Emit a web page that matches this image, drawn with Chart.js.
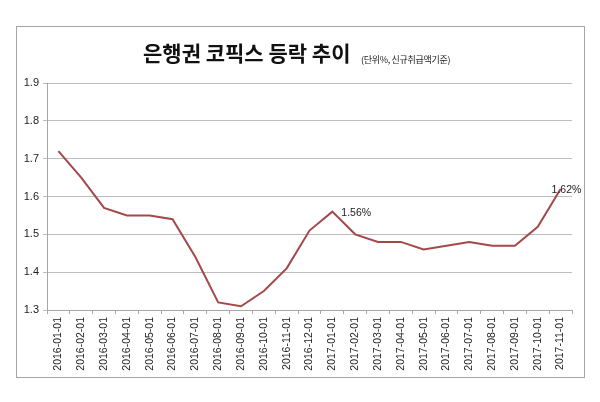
<!DOCTYPE html>
<html>
<head>
<meta charset="utf-8">
<script src="https://cdn.jsdelivr.net/npm/chart.js@4.4.1/dist/chart.umd.min.js"></script>
<style>
  html, body { margin: 0; padding: 0; background: #fff; }
  #wrap { position: relative; width: 600px; height: 402px; }
  #title {
    position: absolute; left: 143px; top: 42px; line-height: 1;
    font-family: "Noto Sans CJK KR", sans-serif; font-weight: bold;
    font-size: 21px; color: #111; white-space: nowrap; letter-spacing: 0px;
  }
  #sub {
    position: absolute; left: 361px; top: 55px; line-height: 1;
    font-family: "Noto Sans CJK KR", sans-serif;
    font-size: 9px; color: #222; white-space: nowrap; letter-spacing: -0.3px;
  }
</style>
</head>
<body>
<div id="wrap">
  <canvas id="chart" width="600" height="402"></canvas>
  <div id="title">은행권 코픽스 등락 추이</div>
  <div id="sub">(단위%, 신규취급액기준)</div>
</div>
<script>
document.addEventListener("DOMContentLoaded", function () {
  const ctx = document.getElementById('chart').getContext('2d');

  // 월별 기준일
  const labels = [
    '2016-01-01', '2016-02-01', '2016-03-01', '2016-04-01', '2016-05-01', '2016-06-01',
    '2016-07-01', '2016-08-01', '2016-09-01', '2016-10-01', '2016-11-01', '2016-12-01',
    '2017-01-01', '2017-02-01', '2017-03-01', '2017-04-01', '2017-05-01', '2017-06-01',
    '2017-07-01', '2017-08-01', '2017-09-01', '2017-10-01', '2017-11-01'
  ];
  // 코픽스 (%)
  const cofix = [
    1.72, 1.65, 1.57, 1.55, 1.55, 1.54, 1.44, 1.32, 1.31, 1.35, 1.41, 1.51,
    1.56, 1.50, 1.48, 1.48, 1.46, 1.47, 1.48, 1.47, 1.47, 1.52, 1.62
  ];
  const yTicks = [1.3, 1.4, 1.5, 1.6, 1.7, 1.8, 1.9];
  // 값 표시할 지점
  const labelled = ['2017-01-01', '2017-11-01'];

  const frame = {
    id: 'frame',
    beforeDraw(chart) {
      const c = chart.ctx;
      c.save();
      c.fillStyle = '#fff';
      c.fillRect(0, 0, chart.width, chart.height);
      c.strokeStyle = '#a6a6a6';
      c.lineWidth = 1;
      c.strokeRect(16.5, 26.5, 568, 351);
      c.restore();
    }
  };

  const valueLabels = {
    id: 'valueLabels',
    afterDatasetsDraw(chart) {
      const c = chart.ctx;
      const meta = chart.getDatasetMeta(0);
      c.save();
      c.font = '10.5px "Liberation Sans", sans-serif';
      c.fillStyle = '#222';
      c.textBaseline = 'middle';
      labelled.forEach(function (lab, n) {
        const i = labels.indexOf(lab);
        const pt = meta.data[i];
        const dx = n === 0 ? 9 : -9;
        c.fillText(cofix[i].toFixed(2) + '%', pt.x + dx, pt.y + 1);
      });
      c.restore();
    }
  };

  new Chart(ctx, {
    type: 'line',
    data: {
      labels: labels,
      datasets: [{
        data: cofix,
        borderColor: '#a4484a',
        borderWidth: 2,
        pointRadius: 0,
        tension: 0,
        fill: false
      }]
    },
    options: {
      responsive: false,
      animation: false,
      layout: { padding: { top: 83, right: 28, bottom: 0, left: 0 } },
      scales: {
        x: {
          offset: true,
          grid: {
            offset: true,
            drawOnChartArea: false,
            drawTicks: true,
            tickLength: 4,
            color: '#a6a6a6'
          },
          border: { color: '#a6a6a6' },
          ticks: {
            autoSkip: false,
            maxRotation: 90,
            minRotation: 90,
            padding: 3,
            color: '#222',
            font: { family: '"Liberation Sans", sans-serif', size: 10.5 }
          },
          afterFit(scale) { scale.height = 92; }
        },
        y: {
          min: 1.3,
          max: 1.9,
          afterBuildTicks(scale) { scale.ticks = yTicks.map(v => ({ value: v })); },
          grid: { color: '#bdbdbd', tickLength: 4 },
          border: { color: '#a6a6a6' },
          ticks: {
            padding: 4,
            color: '#222',
            font: { family: '"Liberation Sans", sans-serif', size: 11 },
            callback: v => v.toFixed(1)
          },
          afterFit(scale) { scale.width = 47; }
        }
      },
      plugins: {
        legend: { display: false },
        tooltip: { enabled: false }
      }
    },
    plugins: [frame, valueLabels]
  });
});
</script>
</body>
</html>
